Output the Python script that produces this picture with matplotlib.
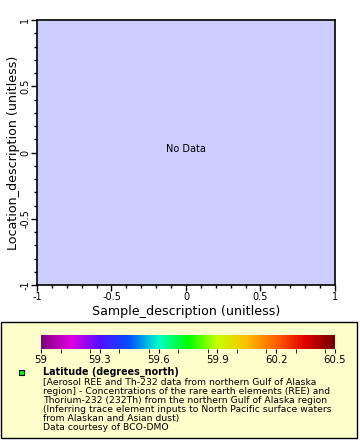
import matplotlib
matplotlib.use("Agg")
import matplotlib.pyplot as plt
import numpy as np
from matplotlib.colors import LinearSegmentedColormap
from matplotlib.patches import Rectangle
from matplotlib.ticker import MultipleLocator

# Data / labels
x_label = "Sample_description (unitless)"
y_label = "Location_description (unitless)"
x_range = [-1, 1]
y_range = [-1, 1]
cbar_range = [59.0, 60.5]
cbar_ticks = [59.0, 59.3, 59.6, 59.9, 60.2, 60.5]
cbar_ticklabels = ["59", "59.3", "59.6", "59.9", "60.2", "60.5"]
legend_title = "Latitude (degrees_north)"
legend_lines = [
    "[Aerosol REE and Th-232 data from northern Gulf of Alaska",
    "region] - Concentrations of the rare earth elements (REE) and",
    "Thorium-232 (232Th) from the northern Gulf of Alaska region",
    "(Inferring trace element inputs to North Pacific surface waters",
    "from Alaskan and Asian dust)",
    "Data courtesy of BCO-DMO",
]
rainbow_colors = ["#800080", "#e000e0", "#5010ff", "#0050ff", "#00ffc8",
                  "#00ff00", "#c8ff00", "#ffc000", "#ff6000", "#e00000", "#700000"]

W, H = 360, 440
fig = plt.figure(figsize=(W / 100, H / 100), dpi=100)
fig.patch.set_facecolor("white")

def box(l, t, r, b):
    return [l / W, 1 - b / H, (r - l) / W, (b - t) / H]

ax = fig.add_axes(box(37, 20, 335, 285))
ax.set_facecolor("#ccccff")
ax.set_xlim(*x_range)
ax.set_ylim(*y_range)
ax.xaxis.set_major_locator(MultipleLocator(0.5))
ax.xaxis.set_minor_locator(MultipleLocator(0.1))
ax.yaxis.set_major_locator(MultipleLocator(0.5))
ax.yaxis.set_minor_locator(MultipleLocator(0.1))
fmt = lambda v, p: ("%g" % v)
ax.xaxis.set_major_formatter(plt.FuncFormatter(fmt))
ax.yaxis.set_major_formatter(plt.FuncFormatter(fmt))
ax.tick_params(which="major", direction="out", length=4, width=1, labelsize=7, pad=1)
ax.tick_params(which="minor", direction="out", length=2, width=1)
for lab in ax.get_yticklabels():
    lab.set_rotation(90)
    lab.set_va("center")
for s in ax.spines.values():
    s.set_linewidth(1.2)
ax.set_xlabel(x_label, fontsize=9.1, labelpad=2)
ax.set_ylabel(y_label, fontsize=9.1, labelpad=0)
ax.text(0.0, 0.03, "No Data", fontsize=7, ha="center", va="center")

# Legend box
fig.patches.append(Rectangle((1 / W, 1 - 438 / H), 356 / W, 116 / H,
                             transform=fig.transFigure, facecolor="#ffffcc",
                             edgecolor="black", linewidth=1, zorder=-5))

cmap = LinearSegmentedColormap.from_list("rainbow2", rainbow_colors)
cax = fig.add_axes(box(41, 335, 335, 349))
cax.set_zorder(5)
cax.patch.set_alpha(0)
grad = np.linspace(cbar_range[0], cbar_range[1], 512).reshape(1, -1)
cax.imshow(grad, aspect="auto", cmap=cmap,
           extent=[cbar_range[0], cbar_range[1], 0, 1])
cax.set_xlim(*cbar_range)
cax.set_yticks([])
cax.set_xticks(cbar_ticks)
cax.set_xticklabels(cbar_ticklabels)
cax.xaxis.set_minor_locator(MultipleLocator(0.15))
cax.tick_params(which="major", direction="out", length=3, labelsize=7.3, pad=1)
cax.tick_params(which="minor", direction="out", length=3)
for s in cax.spines.values():
    s.set_visible(False)

fig.patches.append(Rectangle((19 / W, 1 - 375 / H), 5 / W, 5 / H,
                             transform=fig.transFigure, facecolor="#00ff00",
                             edgecolor="black", linewidth=0.8, zorder=6))
fig.text(43 / W, 1 - 372 / H, legend_title, fontsize=6.9, fontweight="bold",
         va="center", ha="left", zorder=6)
for i, line in enumerate(legend_lines):
    fig.text(43 / W, 1 - (382 + 9 * i) / H, line, fontsize=6.7,
             va="center", ha="left", zorder=6)

fig.savefig("out.png", dpi=100)
